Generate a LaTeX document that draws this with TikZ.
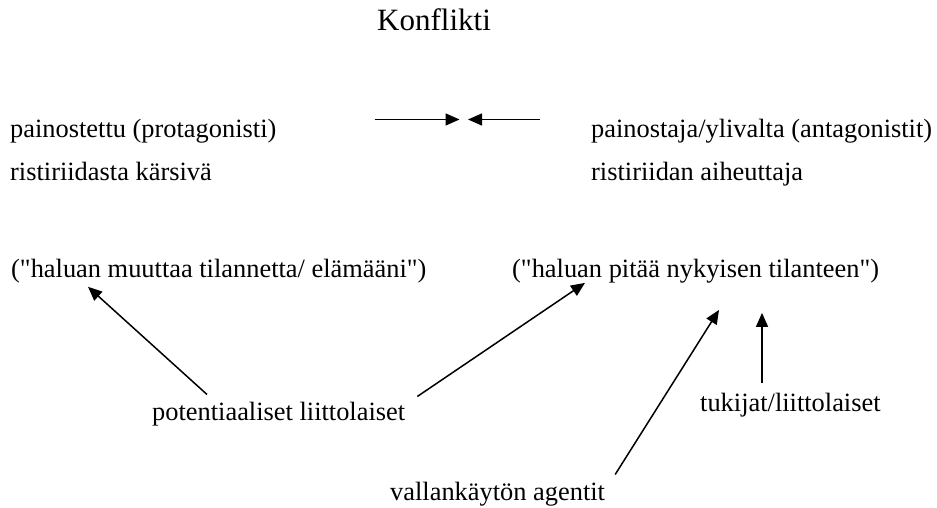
\documentclass[tikz,border=0pt]{standalone}
\usepackage{fontspec}
% plain family: keeps the straight double quote as typed
\newfontfamily\labelfont{Liberation Serif}
\usetikzlibrary{arrows.meta}
\begin{document}
\begin{tikzpicture}[x=1pt,y=-1pt,
  label/.style={inner sep=0pt,anchor=base west,font=\labelfont\fontsize{26.4}{30}\selectfont},
  title/.style={inner sep=0pt,anchor=base west,font=\labelfont\fontsize{31}{36}\selectfont},
  link/.style={line width=1.5pt,-{Triangle[length=14pt,width=12pt]}}]
  % canvas
  \fill[white] (0,0) rectangle (937,508);
  \useasboundingbox (0,0) rectangle (937,508);

  % heading
  \node[title] (head) at (377,31) {Konflikti};

  % the two sides of the conflict
  \node[label] (prot)  at (10,138)  {painostettu (protagonisti)};
  \node[label] (prot2) at (10,180)  {ristiriidasta kärsivä};
  \node[label] (anta)  at (591,138) {painostaja/ylivalta (antagonistit)};
  \node[label] (anta2) at (591,180) {ristiriidan aiheuttaja};

  % what each side wants
  \node[label] (want1) at (11,277)  {("haluan muuttaa tilannetta/ elämääni")};
  \node[label] (want2) at (512,277) {("haluan pitää nykyisen tilanteen")};

  % other actors
  \node[label] (pot) at (152,420) {potentiaaliset liittolaiset};
  \node[label] (tuk) at (700,411) {tukijat/liittolaiset};
  \node[label] (val) at (390,500) {vallankäytön agentit};

  % opposing forces
  \draw[link] ([shift={(98,0)}]prot.north east) -- ([shift={(183,0)}]prot.north east);
  \draw[link] ([shift={(-51,0)}]anta.north west) -- ([shift={(-123,0)}]anta.north west);

  % who supports whom
  \draw[link] ([shift={(55,-7)}]pot.north west) -- ([shift={(77,4)}]want1.south west);
  \draw[link] ([shift={(12,-5)}]pot.north east) -- ([shift={(73,0)}]want2.south west);
  \draw[link] ([shift={(10,-7)}]val.north east) -- ([shift={(207,27)}]want2.south west);
  \draw[link] ([shift={(62,-9)}]tuk.north west) -- ([shift={(250,30)}]want2.south west);
\end{tikzpicture}
\end{document}
